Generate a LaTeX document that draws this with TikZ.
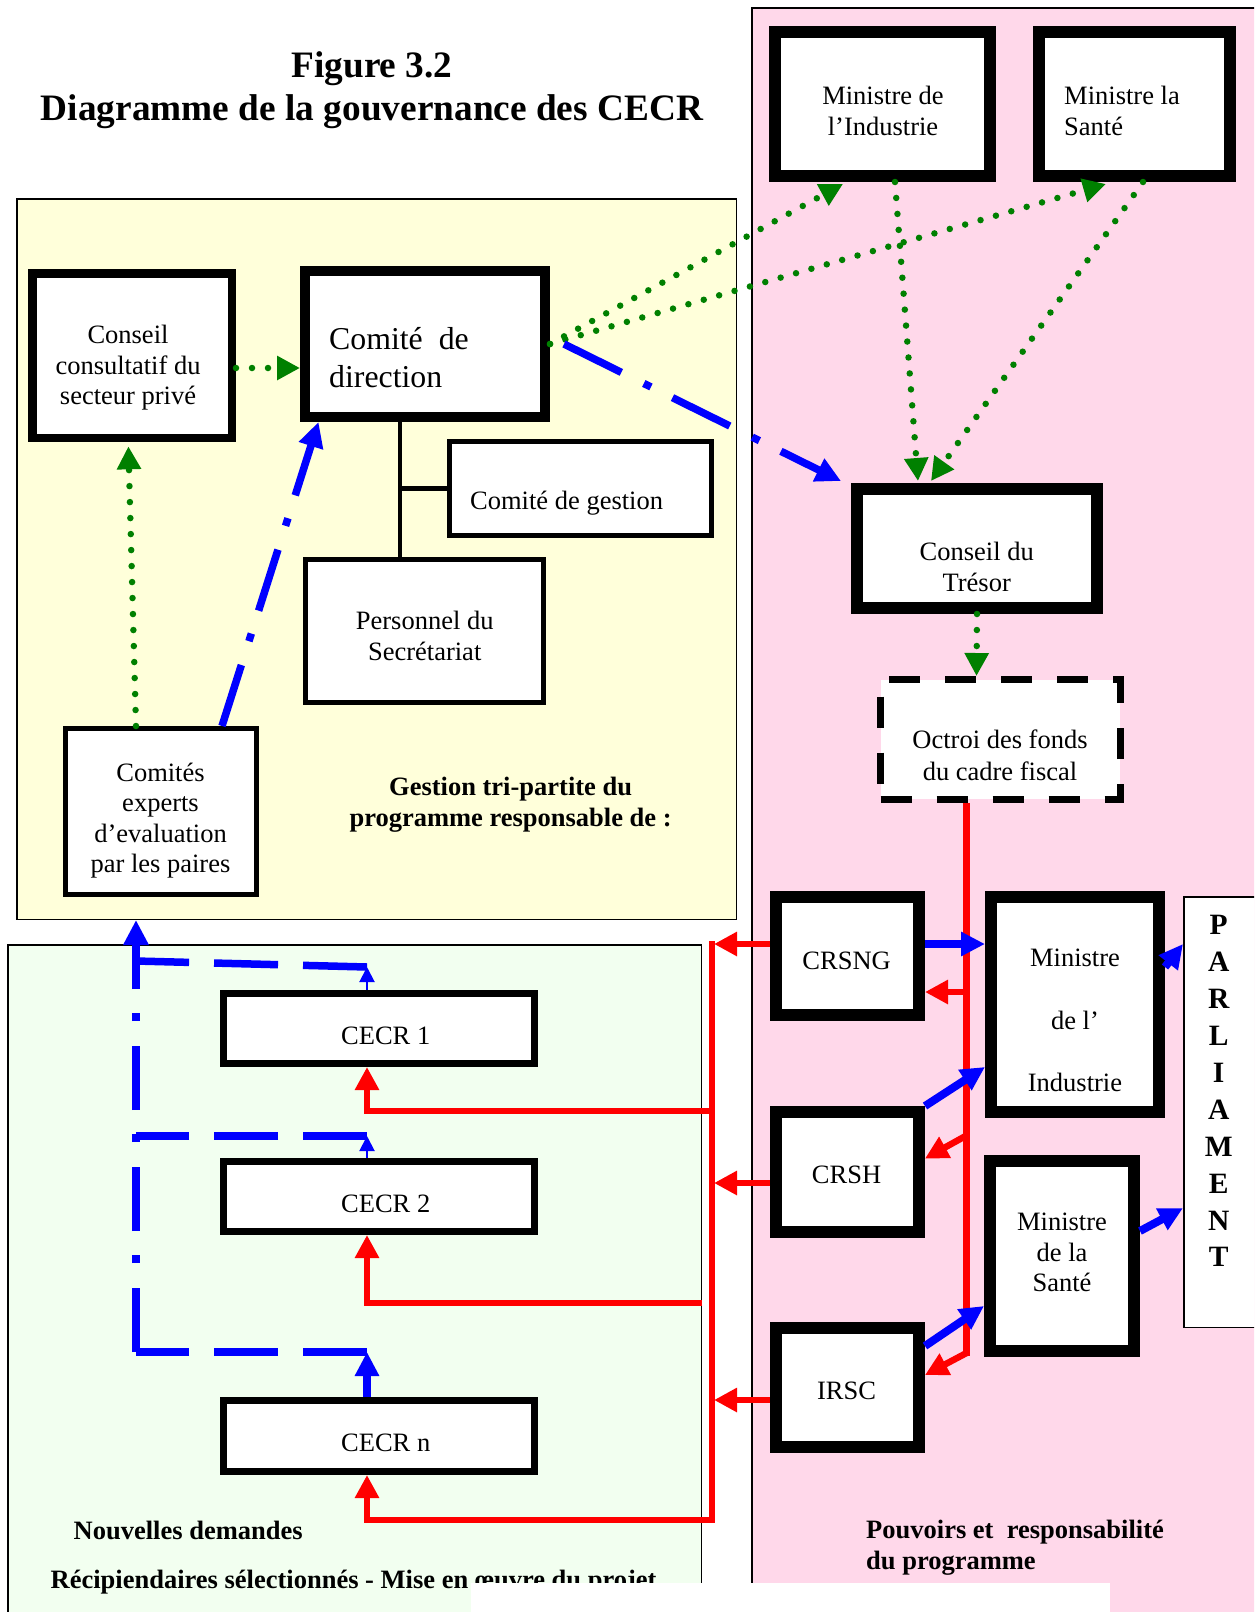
\documentclass[tikz,border=0pt]{standalone}
\usepackage{fontspec}
\setmainfont{Liberation Serif}
\usetikzlibrary{arrows.meta,calc}
\definecolor{ypanel}{RGB}{255,255,218}
\definecolor{ppanel}{RGB}{255,216,234}
\definecolor{gpanel}{RGB}{242,255,240}
\definecolor{dgreen}{RGB}{0,128,0}
\newcommand{\mkbox}[7]{%
 \pgfmathsetmacro{\bxw}{#4-#2-#6}\pgfmathsetmacro{\bxh}{#5-#3-#6}%
 \pgfmathsetmacro{\bxx}{(#2+#4)/2}\pgfmathsetmacro{\bxy}{(#3+#5)/2}%
 \node[#7,line width=#6pt,minimum width=\bxw pt,minimum height=\bxh pt,inner sep=0pt] (#1) at (\bxx,\bxy) {};}
\tikzset{
 panel/.style={draw=black,rectangle},
 boxw/.style={draw=black,fill=white,rectangle},
 dashbox/.style={boxw,dash pattern=on 31pt off 25pt},
 gdot/.style={draw=dgreen,line width=6.5pt,line cap=round,dash pattern=on 0pt off 16pt,-{Triangle[length=23pt,width=23pt]}},
 bdd/.style={draw=blue,line width=7.5pt,dash pattern=on 64pt off 25pt on 8pt off 24pt,-{Triangle[length=25pt,width=24pt]}},
 bdash/.style={draw=blue,line width=7.5pt,dash pattern=on 64pt off 25pt},
 barrow/.style={draw=blue,line width=8pt,-{Triangle[length=24pt,width=23pt]}},
 bthin/.style={draw=blue,line width=2pt,-{Triangle[length=15pt,width=15pt]}},
 rline/.style={draw=red,line width=6.5pt},
 rarrow/.style={rline,-{Triangle[length=23pt,width=23pt]}},
 tree/.style={draw=black,line width=4.7pt},
 t/.style={inner sep=0pt,font=\fontsize{26.5}{30.5}\selectfont,align=center},
 tb/.style={inner sep=0pt,font=\fontsize{26.5}{30.5}\selectfont\bfseries,align=center},
 ttl/.style={inner sep=0pt,font=\fontsize{37.3}{45}\selectfont\bfseries,anchor=base},
}
\begin{document}
\begin{tikzpicture}[x=1pt,y=-1pt]
\path[use as bounding box,clip] (0,0) rectangle (1254,1612);
\fill[white] (0,0) rectangle (1254,1612);
% panels
\mkbox{yel}{16}{198}{737}{920}{1.5}{panel,fill=ypanel}
\mkbox{pink}{751}{7}{1275}{1630}{1.5}{panel,fill=ppanel}
\mkbox{grn}{7}{944}{702}{1630}{1.5}{panel,fill=gpanel}
% title
\node[ttl] (tfig) at (372,77) {Figure 3.2};
\node[ttl] (tdiag) at (372,120) {Diagramme de la gouvernance des CECR};
% boxes
\mkbox{mint}{769}{26}{996}{182}{11.7}{boxw}
\mkbox{mins}{1033}{26}{1236}{182}{11.7}{boxw}
\mkbox{cons}{28}{269}{236}{442}{8.5}{boxw}
\mkbox{cdir}{300}{266}{550}{422}{10.4}{boxw}
\mkbox{cges}{447}{439}{714}{538}{4.7}{boxw}
\mkbox{pers}{303}{557}{546}{705}{5}{boxw}
\mkbox{cexp}{63}{726}{259}{897}{4.7}{boxw}
\mkbox{tres}{851}{483}{1103}{614}{12}{boxw}
\mkbox{octr}{877}{676}{1124}{803}{7.3}{dashbox}
\mkbox{crsng}{770}{891}{925}{1021}{11.7}{boxw}
\mkbox{crsh}{770}{1106}{925}{1238}{11.7}{boxw}
\mkbox{irsc}{770}{1322}{925}{1453}{11.7}{boxw}
\mkbox{mind}{985}{891}{1165}{1118}{12}{boxw}
\mkbox{msan}{984}{1155}{1140}{1357}{12}{boxw}
\mkbox{parl}{1183}{896}{1275}{1328}{1.5}{boxw}
\mkbox{cecr1}{220}{989.5}{538}{1067}{7}{boxw}
\mkbox{cecr2}{220}{1157.5}{538}{1235}{7}{boxw}
\mkbox{cecrn}{220}{1397}{538}{1475}{7}{boxw}
% tree
\coordinate (trunk) at ([xshift=-24.5pt]pers.north);
\draw[tree] ([xshift=-25pt]cdir.south) -- (trunk);
\draw[tree] (cges.west) -- (cges.west -| trunk);
% green dotted
\draw[gdot] ([yshift=-12.5pt]cons.east) -- ([yshift=-24pt]cdir.west);
\draw[gdot] ([xshift=-25pt]cexp.north) -- ([xshift=-3.6pt,yshift=-4.3pt]cons.south);
\draw[gdot] (cdir.east) -- ([xshift=-39.5pt,yshift=-2pt]mint.south);
\draw[gdot] (cdir.east) -- ([xshift=-28.5pt,yshift=-2pt]mins.south);
\draw[gdot] ([xshift=12.5pt]mint.south) -- ([xshift=-59pt,yshift=2pt]tres.north);
\draw[gdot] ([xshift=8.5pt]mins.south) -- ([xshift=-46pt,yshift=2pt]tres.north);
\draw[gdot] (tres.south) -- ([xshift=-24pt]octr.north);
% blue dash-dot
\draw[bdd] ([xshift=14pt]cdir.east) -- ([xshift=-10pt,yshift=2pt]tres.north west);
\draw[bdd] ([xshift=61pt]cexp.north) -- ([xshift=-106.5pt]cdir.south);
% bottom-left blue
\coordinate (jn) at (367,1352);
\coordinate (j2) at (367,1136);
\coordinate (j1) at (367,967);
\coordinate (vbot) at (136,1352);
\coordinate (v2) at (136,1136);
\coordinate (v1) at (136,961);
\coordinate (vtop) at (yel.south -| vbot);
\draw[barrow] ([xshift=-12pt]cecrn.north) -- (jn);
\draw[bdash] (jn) -- (vbot);
\draw[bdd] (vbot) -- (vtop);
\draw[bthin] ([xshift=-12pt]cecr2.north) -- (j2);
\draw[bdash] (j2) -- (v2);
\draw[bthin] ([xshift=-12pt]cecr1.north) -- (j1);
\draw[bdash] (j1) -- (v1);
% red bus right
\coordinate (rtop) at ([xshift=-34pt]octr.south);
\coordinate (rbot) at (966.5,1356);
\coordinate (rb1) at (966.5,992);
\coordinate (rb2) at (966.5,1135.5);
\coordinate (rb3) at (966.5,1353);
\draw[rline] (rtop) -- (rbot);
\draw[rarrow] (rb1) -- ([yshift=-36pt]crsng.east);
\draw[rarrow] (rb2) -- ([yshift=13.5pt]crsh.east);
\draw[rarrow] (rb3) -- ([yshift=12.5pt]irsc.east);
% red to left bus
\coordinate (lb1) at (714,944);
\coordinate (lb2) at (714,1183);
\coordinate (lb3) at (714,1400);
\draw[rarrow] ([yshift=12pt]crsng.west) -- (lb1);
\draw[rarrow] ([yshift=-11pt]crsh.west) -- (lb2);
\draw[rarrow] ([yshift=-12.5pt]irsc.west) -- (lb3);
% left bus to CECR
\coordinate (ltop) at (712,941);
\coordinate (lcorner) at (712,1520);
\coordinate (lc1) at (712,1111);
\coordinate (lc2) at (702,1303);
\draw[rarrow] (ltop) -- (lcorner) -| ([xshift=-12pt]cecrn.south);
\draw[rarrow] (lc1) -| ([xshift=-12pt]cecr1.south);
\draw[rarrow] (lc2) -| ([xshift=-12pt]cecr2.south);
% blue right
\draw[barrow] ([yshift=12pt]crsng.east) -- ([yshift=60.5pt]mind.west);
\draw[barrow] (crsh.north east) -- ([yshift=-62.5pt]mind.west);
\draw[barrow] ([yshift=-24pt]irsc.north east) -- ([yshift=-50pt]msan.west);
\draw[barrow] ([yshift=37.5pt]mind.east) -- ([yshift=168pt]parl.west);
\draw[barrow] ([yshift=25pt]msan.east) -- ([yshift=-96pt]parl.west);
% texts
\node[t,anchor=north] (tcons) at (128,325) {Conseil\\consultatif du\\secteur privé};
\node[inner sep=0pt,font=\fontsize{31.8}{38.2}\selectfont,align=left,anchor=north west] (tcdir) at (329,327) {Comité~~de\\direction};
\node[t,anchor=base west] (tcges) at (470,509) {Comité de gestion};
\node[t,anchor=north] (tpers) at (424.7,611) {Personnel du\\Secrétariat};
\node[t,anchor=north] (tcexp) at (160.5,762.6) {Comités\\experts\\d’evaluation\\par les paires};
\node[tb,anchor=north] (tgest) at (510.6,777) {Gestion tri-partite du\\programme responsable de :};
\node[t,anchor=north] (tmint) at (883,86) {Ministre de\\l’Industrie};
\node[t,anchor=north west,align=left] (tmins) at (1064,86) {Ministre la\\Santé};
\node[t,anchor=north] (ttres) at (976.7,542) {Conseil du\\Trésor};
\node[inner sep=0pt,font=\fontsize{26.5}{31.7}\selectfont,align=center,anchor=north] (toctr) at (1000,730) {Octroi des fonds\\du cadre fiscal};
\node[t,anchor=base] (tcrsng) at (846.6,969) {CRSNG};
\node[t,anchor=base] (tcrsh) at (846.6,1183.4) {CRSH};
\node[t,anchor=base] (tirsc) at (846.6,1399.6) {IRSC};
\node[inner sep=0pt,font=\fontsize{26.5}{62.5}\selectfont,align=center,anchor=north] (tmind) at (1075,949) {Ministre\\de l’\\Industrie};
\node[t,anchor=north] (tmsan) at (1062,1213) {Ministre\\de la\\Santé};
\node[inner sep=0pt,font=\fontsize{29.5}{36.9}\selectfont\bfseries,align=center,anchor=north] (tparl) at (1218.7,915.3) {P\\A\\R\\L\\I\\A\\M\\E\\N\\T};
\node[t,anchor=base] (tc1) at (385.7,1044.4) {CECR 1};
\node[t,anchor=base] (tc2) at (385.7,1212.4) {CECR 2};
\node[t,anchor=base] (tcn) at (385.7,1451.8) {CECR n};
\node[tb,anchor=base west] (tnouv) at (73.5,1539) {Nouvelles demandes};
\node[tb,anchor=base west] (trecip) at (50.5,1588) {Récipiendaires sélectionnés - Mise en œuvre du projet};
\node[tb,anchor=north west,align=left] (tpouv) at (866,1520) {Pouvoirs et~~responsabilité\\du programme};
% white cover at bottom
\fill[white] (471,1583) rectangle (1110,1620);
\end{tikzpicture}
\end{document}
